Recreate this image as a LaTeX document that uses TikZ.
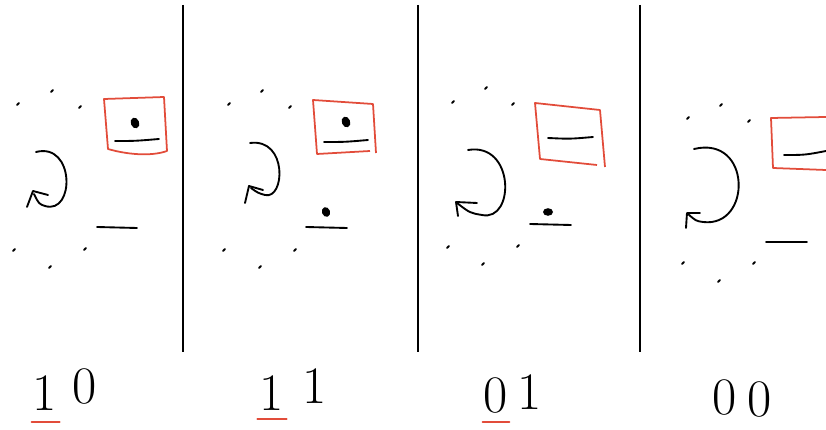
\documentclass[tikz,border=0pt]{standalone}
\usepackage{xcolor}
\usepackage{tikz}
\usetikzlibrary{positioning}

\definecolor{sketchred}{RGB}{226,76,58}

\begin{document}
\begin{tikzpicture}[
    x=0.03cm, y=-0.03cm,
    divider/.style={line width=1.5pt},
    stroke/.style={line width=1.6pt, line cap=round, line join=round},
    speck/.style={line width=1.8pt, line cap=round},
    frame/.style={draw=sketchred, line width=1.5pt, line join=round},
    blob/.style={fill=black},
    digit/.style={anchor=base, inner sep=0pt, font=\fontsize{45}{45}\selectfont},
    redline/.style={draw=sketchred, line width=1.6pt, line cap=round}
]
\useasboundingbox (0,0) rectangle (826,430);

% dividers
\draw[divider] (183,5) -- (183,352);
\draw[divider] (418,5) -- (418,352);
\draw[divider] (640,5) -- (640,352);

% specks round each curl
\foreach \sx/\sy in {17/105, 51/92, 79/108, 13/251, 84/250, 49/268,
                     228/105, 261/92, 289/108, 223/251, 294/251, 259/268,
                     452/103, 485/89, 512/105, 447/248, 517/247, 482/265,
                     687/119, 720/106, 748/122, 682/264, 753/264, 718/282}
    \draw[speck] (\sx,\sy) -- ++(1.8,-1.8);

% panel 1
\draw[frame] (104,99) -- (164,97) -- (167,151) .. controls (150,157) and (125,154) .. (108,149) -- cycle;
\fill[blob] (135,123) ellipse [x radius=4.2, y radius=5.5, rotate=20];
\draw[stroke] (115,141) .. controls (135,141) .. (159,139);
\draw[stroke] (36,152) .. controls (75,142) and (75,215) .. (45,206) .. controls (39,204) .. (34,194);
\draw[stroke] (27,207) -- (33,191) -- (48,195);
\draw[stroke] (97,227) -- (137,228);

% panel 2
\draw[frame] (370,151) -- (317,154) -- (313,100) -- (373,104) -- (376,153);
\fill[blob] (346,122) ellipse [x radius=4.2, y radius=5.5, rotate=20];
\draw[stroke] (324,142) .. controls (345,142) .. (368,140);
\draw[stroke] (250,143) .. controls (288,138) and (285,200) .. (265,195) .. controls (258,193) .. (251,188);
\draw[stroke] (245,203) -- (249,186) -- (263,190);
\fill[blob] (326,212) ellipse [x radius=4, y radius=5, rotate=20];
\draw[stroke] (306,227) -- (347,228);

% panel 3
\draw[frame] (597,165) -- (540,159) -- (535,103) -- (600,110) -- (605,167);
\draw[stroke] (548,138) .. controls (570,139) .. (593,137);
\draw[stroke] (468,150) .. controls (515,142) and (515,222) .. (482,215) .. controls (470,213) .. (457,203);
\draw[stroke] (458,216) -- (456,202) -- (477,203);
\fill[blob] (548,212) ellipse [x radius=5, y radius=3.8];
\draw[stroke] (530,224) -- (571,225);

% panel 4
\draw[frame] (826,117) -- (771,118) -- (773,168) -- (826,170);
\draw[stroke] (784,155) .. controls (805,155) .. (826,151);
\draw[stroke] (694,149) .. controls (752,135) and (752,228) .. (703,222) .. controls (696,221) .. (688,214);
\draw[stroke] (686,228) -- (687,213) -- (700,213);
\draw[stroke] (766,242) -- (807,242);

% labels
\node[digit] (p1a) at (45,411) {1};
\node[digit] (p1b) at (85,404) {0};
\node[digit] (p2a) at (272,411) {1};
\node[digit] (p2b) at (315,404) {1};
\node[digit] (p3a) at (496,413) {0};
\node[digit] (p3b) at (530,410) {1};
\node[digit] (p4a) at (725,415) {0};
\node[digit] (p4b) at (760,417) {0};

\draw[redline] ([xshift=-1pt, yshift=-9pt]p1a.south west) -- ([xshift=2pt, yshift=-9pt]p1a.south east);
\draw[redline] ([xshift=-2pt, yshift=-7pt]p2a.south west) -- ([xshift=2pt, yshift=-7pt]p2a.south east);
\draw[redline] ([xshift=-1pt, yshift=-7pt]p3a.south west) -- ([xshift=1pt, yshift=-7pt]p3a.south east);
\end{tikzpicture}
\end{document}
